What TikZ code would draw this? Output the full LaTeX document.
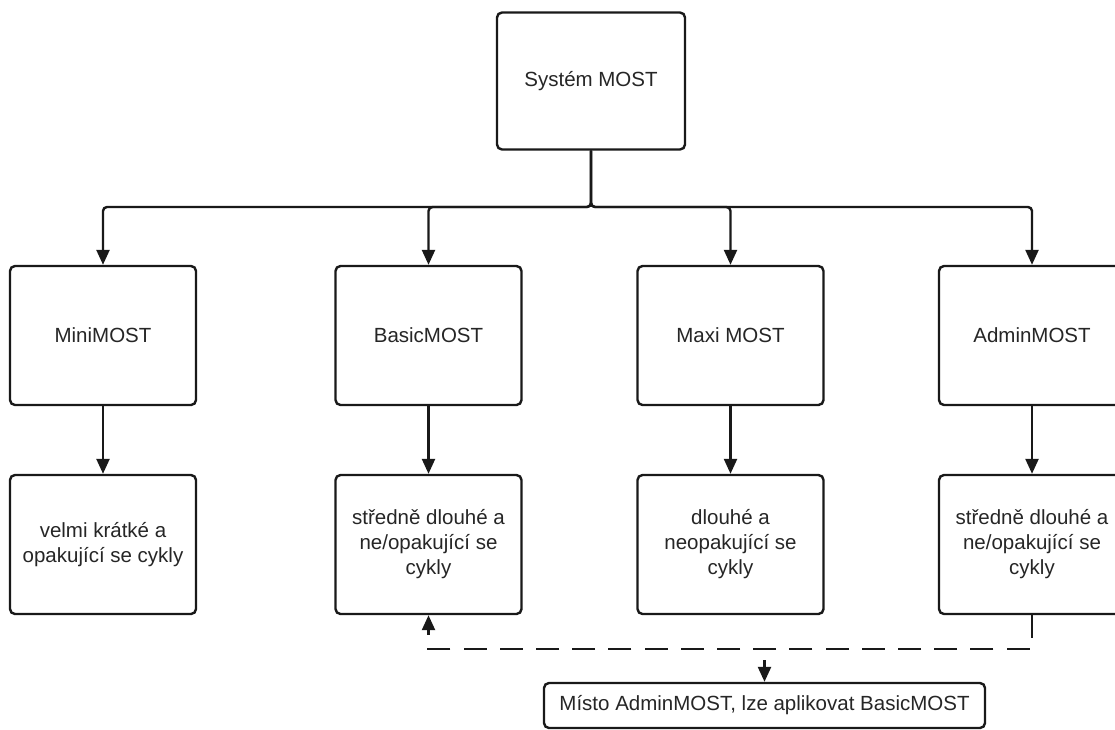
\documentclass[tikz,border=0pt]{standalone}
\usepackage{fontspec}
\setmainfont{Liberation Sans}
\usetikzlibrary{arrows.meta}
\begin{document}
\begin{tikzpicture}[x=1pt,y=-1pt,
  box/.style={draw=black!90, line width=2.4pt, rounded corners=5pt, fill=white,
    minimum width=186pt, minimum height=139pt, inner sep=0pt, align=center,
    text=black!85, font=\fontsize{20.5}{25}\selectfont},
  link/.style={draw=black!90, line width=2.4pt, rounded corners=4pt,
    -{Triangle[width=13pt,length=15pt]}},
  dashlink/.style={link, rounded corners=0pt, dash pattern=on 23pt off 13.2pt},
]
\useasboundingbox (0,0) rectangle (1115,729);

% top level
\node[box, minimum width=188pt, minimum height=137pt] (most) at (591,81) {Systém MOST};

% second row: the four variants
\node[box] (mini)  at (103,335.5)  {MiniMOST};
\node[box] (basic) at (428.5,335.5) {BasicMOST};
\node[box] (maxi)  at (730.5,335.5) {Maxi MOST};
\node[box] (admin) at (1032,335.5) {AdminMOST};

% third row: cycle descriptions
\node[box] (miniD)  at (103,544.5)  {velmi krátké a\\opakující se cykly};
\node[box] (basicD) at (428.5,544.5) {středně dlouhé a\\ne/opakující se\\cykly};
\node[box] (maxiD)  at (730.5,544.5) {dlouhé a\\neopakující se\\cykly};
\node[box] (adminD) at (1032,544.5) {středně dlouhé a\\ne/opakující se\\cykly};

% note
\node[box, minimum width=441pt, minimum height=45pt] (note) at (764.5,705.5)
  {Místo AdminMOST, lze aplikovat BasicMOST};

% branching bus
\coordinate (bus) at (591,207);
\draw[link] (most.south) -- (bus) -| (mini.north);
\draw[link] (most.south) -- (bus) -| (basic.north);
\draw[link] (most.south) -- (bus) -| (maxi.north);
\draw[link] (most.south) -- (bus) -| (admin.north);

% variant to description
\draw[link] (mini.south)  -- (miniD.north);
\draw[link] (basic.south) -- (basicD.north);
\draw[link] (maxi.south)  -- (maxiD.north);
\draw[link] (admin.south) -- (adminD.north);

% substitution link
\coordinate (turn) at (1032,649);
\draw[dashlink] (adminD.south) -- (turn) -| (basicD.south);
\draw[dashlink, dash pattern=on 0pt off 11pt on 40pt] (note.north |- turn) -- (note.north);
\end{tikzpicture}
\end{document}
